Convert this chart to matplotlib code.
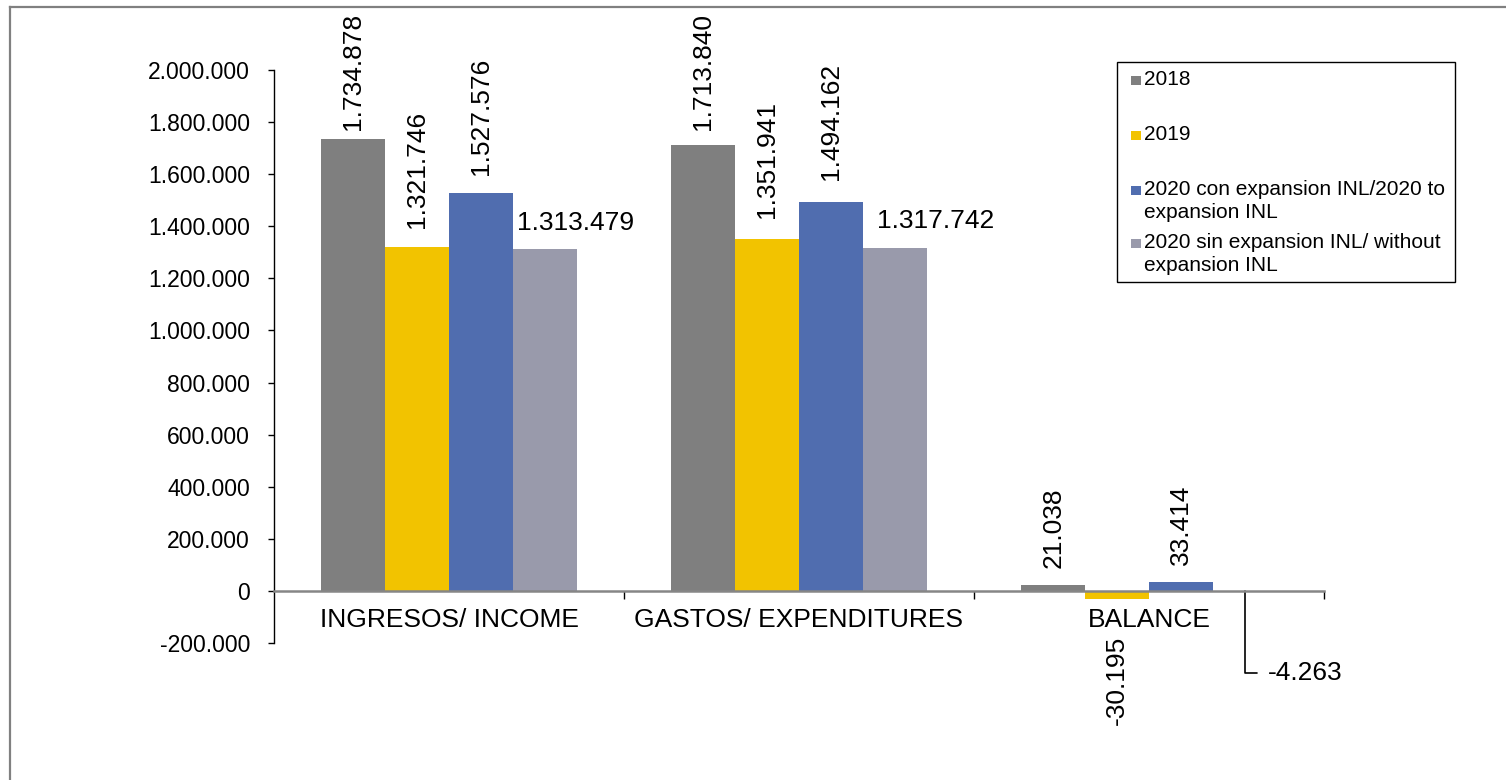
import matplotlib
matplotlib.use("Agg")
import matplotlib.pyplot as plt
import numpy as np
from matplotlib.patches import Rectangle
from matplotlib.lines import Line2D
from matplotlib.ticker import FuncFormatter

plt.rcParams['font.family'] = ['Liberation Sans', 'DejaVu Sans']

categories = ["INGRESOS/ INCOME", "GASTOS/ EXPENDITURES", "BALANCE"]
series_names = ["2018", "2019", "2020 con expansion INL/2020 to\nexpansion INL",
                "2020 sin expansion INL/ without\nexpansion INL"]
v2018 = [1734878, 1713840, 21038]
v2019 = [1321746, 1351941, -30195]
v2020_con = [1527576, 1494162, 33414]
v2020_sin = [1313479, 1317742, -4263]
series = [v2018, v2019, v2020_con, v2020_sin]
colors = ["#7f7f7f", "#f2c300", "#506daf", "#999aab"]

yticks = [-200000, 0, 200000, 400000, 600000, 800000, 1000000, 1200000,
          1400000, 1600000, 1800000, 2000000]

W, H = 1506, 780
fig = plt.figure(figsize=(W / 100, H / 100), dpi=100)
ax = fig.add_axes([274 / W, 137 / H, 1050 / W, 573 / H])

x = np.arange(len(categories))
bw = 0.1825
for i, (vals, c) in enumerate(zip(series, colors)):
    ax.bar(x + (i - 1.5) * bw, vals, width=bw, color=c, linewidth=0, zorder=2)

ax.set_xlim(-0.5, 2.5)
ax.set_ylim(-200000, 2000000)
ax.set_yticks(yticks)
ax.yaxis.set_major_formatter(FuncFormatter(lambda v, p: f"{int(v):,}".replace(",", ".")))
ax.tick_params(axis='y', labelsize=16.5, length=4.3, width=1, pad=13, colors='black')

ax.set_xticks(x)
ax.set_xticklabels(categories)
ax.set_xticks([0.5, 1.5, 2.5], minor=True)
ax.tick_params(axis='x', which='major', length=0, labelsize=19, pad=12)
ax.tick_params(axis='x', which='minor', length=5.5, width=1, color='black', direction='out')

for s in ['top', 'right']:
    ax.spines[s].set_visible(False)
ax.spines['left'].set_color('black')
ax.spines['left'].set_linewidth(1)
ax.spines['bottom'].set_position(('data', 0))
ax.spines['bottom'].set_color('#868686')
ax.spines['bottom'].set_linewidth(1.8)
ax.spines['bottom'].set_zorder(3)

# data labels: (dx px, dy px, rotation, va)
label_style = {
    (0, 0): (0, 9, 90, 'bottom'), (1, 0): (0, 19, 90, 'bottom'),
    (2, 0): (0, 18, 90, 'bottom'), (3, 0): (31, 19, 0, 'baseline'),
    (0, 1): (0, 15, 90, 'bottom'), (1, 1): (0, 21, 90, 'bottom'),
    (2, 1): (0, 22, 90, 'bottom'), (3, 1): (41, 20, 0, 'baseline'),
    (0, 2): (0, 17, 90, 'bottom'), (1, 2): (0, -37, 90, 'top'),
    (2, 2): (0, 17, 90, 'bottom'),
}

def fmt(v):
    return f"{v:,}".replace(",", ".")

for i, vals in enumerate(series):
    for j, v in enumerate(vals):
        bx = x[j] + (i - 1.5) * bw
        if (i, j) in label_style:
            dx, dy, rot, va = label_style[(i, j)]
            ax.annotate(fmt(v), xy=(bx, max(v, 0) if dy > 0 else min(v, 0)),
                        xytext=(dx, dy), textcoords='offset pixels',
                        ha='center', va=va, rotation=rot, fontsize=19)
        else:
            ax.annotate(fmt(v), xy=(bx, 0), xytext=(23, -82), textcoords='offset pixels',
                        ha='left', va='center', fontsize=19,
                        arrowprops=dict(arrowstyle='-', color='black', lw=1.2,
                                        connectionstyle='angle,angleA=0,angleB=90,rad=0',
                                        shrinkA=6, shrinkB=0, relpos=(0, 0.5)))

# legend (manual)
lx0, ly0, lx1, ly1 = 1117, 62, 1455, 282
fig.patches.append(Rectangle((lx0 / W, 1 - ly1 / H), (lx1 - lx0) / W, (ly1 - ly0) / H,
                             transform=fig.transFigure, fill=False, edgecolor='black',
                             linewidth=1))
baselines = [85, 140, 195, 248]
for name, c, b in zip(series_names, colors, baselines):
    fig.patches.append(Rectangle((1131 / W, 1 - b / H), 10 / W, 9 / H,
                                 transform=fig.transFigure, facecolor=c, edgecolor='none'))
    lines = name.split("\n")
    for k, ln in enumerate(lines):
        fig.text(1144 / W, 1 - (b + 23 * k) / H, ln, fontsize=15, ha='left', va='baseline')

# outer frame
fig.lines.append(Line2D([10 / W, 10 / W], [0, 1 - 7 / H], transform=fig.transFigure,
                        color='#808080', linewidth=1.6))
fig.lines.append(Line2D([10 / W, 1], [1 - 7 / H, 1 - 7 / H], transform=fig.transFigure,
                        color='#808080', linewidth=1.6))

fig.savefig("out.png", dpi=100, facecolor='white')
